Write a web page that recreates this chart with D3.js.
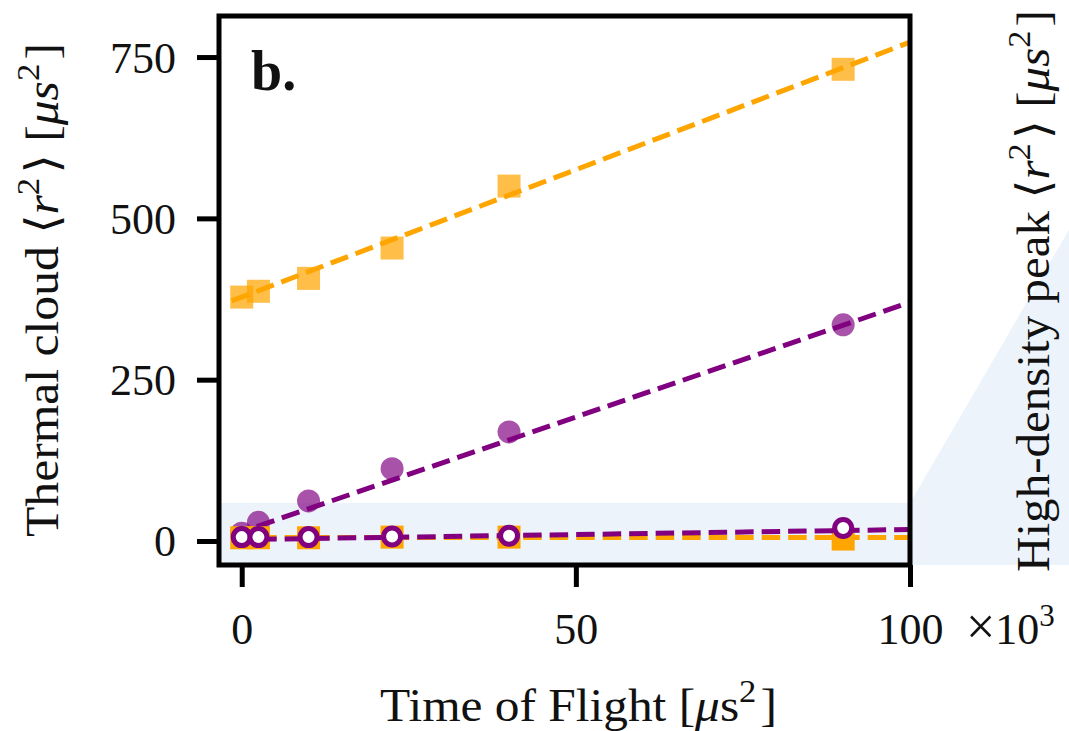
<!DOCTYPE html>
<html><head><meta charset="utf-8">
<script src="https://cdn.jsdelivr.net/npm/d3@7"></script>
<style>body{margin:0;background:#fff}svg{display:block}</style>
</head><body><svg id="c" width="1069" height="731"></svg>
<script>
// ---- data ----
const tof = [0, 2.5, 10, 22.5, 40, 90];               // x10^3 us^2
const thermalOrange = [378, 387, 407, 454, 550, 731];
const thermalPurple = [12, 29, 62, 112, 169, 335];
const peakOrange = [5, 5, 5, 6, 6, 3];
const peakPurple = [6, 6, 6, 7, 8, 20];
const fitX = [-1.5, 100];
const fitThermalOrange = [372, 773];
const fitThermalPurple = [9, 370];
const fitPeakOrange = [5.5, 5.5];
const fitPeakPurple = [2, 17.8];
const xTicks = [0, 50, 100];
const yTicks = [0, 250, 500, 750];
const shadeTop = 59;

const FONT = "'Liberation Serif', 'DejaVu Serif', serif";
const ORANGE = "#FFA500", PURPLE = "#800080";
const svg = d3.select("#c");
const L = 219, R = 910, T = 16, B = 565;
const x = d3.scaleLinear().domain([-3.4, 100]).range([L, R]);
const y = d3.scaleLinear().domain([-37.2, 813.6]).range([B, T]);

// shaded zoom region + connector
svg.append("rect").attr("x", L).attr("y", y(shadeTop)).attr("width", R - L).attr("height", B - y(shadeTop)).attr("fill", "#ECF3FA");
const cx0 = x(100), cy0 = y(shadeTop);
svg.append("polygon").attr("points", [[cx0, cy0], [cx0 + 200, cy0 - 200 * 1.718], [1100, cy0 - 190 * 1.718], [1100, B], [cx0, B]].map(p => p.join(",")).join(" ")).attr("fill", "#ECF3FA");

const g = svg.append("g");
const line = d3.line().x(d => x(d[0])).y(d => y(d[1]));
const dash = "18.5,8";
const sq = 23;
function squares(vals, op) {
  g.append("g").selectAll("rect").data(tof.map((t, i) => [t, vals[i]])).join("rect")
    .attr("x", d => x(d[0]) - sq / 2).attr("y", d => y(d[1]) - sq / 2)
    .attr("width", sq).attr("height", sq).attr("fill", ORANGE).attr("fill-opacity", op);
}
function fit(vals, col) {
  g.append("path").datum(fitX.map((t, i) => [t, vals[i]])).attr("d", line)
    .attr("fill", "none").attr("stroke", col).attr("stroke-width", 5).attr("stroke-dasharray", dash);
}
squares(thermalOrange, 0.72);
fit(fitThermalOrange, ORANGE);
g.append("g").selectAll("circle").data(tof.map((t, i) => [t, thermalPurple[i]])).join("circle")
  .attr("cx", d => x(d[0])).attr("cy", d => y(d[1])).attr("r", 11.5).attr("fill", PURPLE).attr("fill-opacity", 0.68);
fit(fitThermalPurple, PURPLE);
squares(peakOrange, 1);
fit(fitPeakOrange, ORANGE);
fit(fitPeakPurple, PURPLE);
g.append("g").selectAll("circle").data(tof.map((t, i) => [t, peakPurple[i]])).join("circle")
  .attr("cx", d => x(d[0])).attr("cy", d => y(d[1])).attr("r", 8.5).attr("fill", "#fff").attr("stroke", PURPLE).attr("stroke-width", 5);

// frame
svg.append("rect").attr("x", L).attr("y", T).attr("width", R - L).attr("height", B - T)
  .attr("fill", "none").attr("stroke", "#000").attr("stroke-width", 5);

// axes
const xa = svg.append("g").attr("transform", `translate(0,${B})`)
  .call(d3.axisBottom(x).tickValues(xTicks).tickSize(22).tickPadding(26).tickFormat(d3.format("d")));
const ya = svg.append("g").attr("transform", `translate(${L},0)`)
  .call(d3.axisLeft(y).tickValues(yTicks).tickSize(22).tickPadding(21).tickFormat(d3.format("d")));
[xa, ya].forEach(a => {
  a.select(".domain").remove();
  a.selectAll(".tick line").attr("stroke", "#000").attr("stroke-width", 5);
  a.selectAll(".tick text").attr("font-family", FONT).attr("font-size", 44).attr("fill", "#111");
});
xa.selectAll(".tick text").attr("dy", "0.71em");
ya.selectAll(".tick text").attr("dy", "0.34em");

function rich(sel, parts, size) {
  parts.forEach(p => {
    if (p.sup) {
      sel.append("tspan").attr("dy", -size * 0.42).attr("font-size", size * 0.7).text(p.t);
      sel.append("tspan").attr("dy", size * 0.42).text("\u200A");
    } else {
      const ts = sel.append("tspan").text(p.t);
      if (p.i) ts.attr("font-style", "italic");
    }
  });
}
// place text with a horizontal stretch so its length matches the reference
function placeFit(parts, size, anchor, tx, ty, rot, target) {
  const t = svg.append("text").attr("text-anchor", anchor)
    .attr("font-family", FONT).attr("font-size", size).attr("fill", "#111");
  rich(t, parts, size);
  const w = t.node().getBBox().width;
  const sx = target / w;
  t.attr("transform", `translate(${tx},${ty}) rotate(${rot}) scale(${sx},1)`);
  return t;
}
const S = 46;
placeFit([{t: "Time of Flight ["}, {t: "\u03BC", i: 1}, {t: "s"}, {t: "2", sup: 1}, {t: "]"}], S, "middle", 578.5, 721, 0, 397);
placeFit([{t: "Thermal cloud \u27E8"}, {t: "r", i: 1}, {t: "2", sup: 1}, {t: "\u27E9 ["}, {t: "\u03BCs", i: 1}, {t: "2", sup: 1}, {t: "]"}], S, "middle", 58, 290, -90, 494);
placeFit([{t: "High-density peak \u27E8"}, {t: "r", i: 1}, {t: "2", sup: 1}, {t: "\u27E9 ["}, {t: "\u03BCs", i: 1}, {t: "2", sup: 1}, {t: "]"}], S, "middle", 1049, 291, -90, 562);
// offset text
const off = svg.append("text").attr("x", 966).attr("y", 644).attr("font-family", FONT).attr("font-size", 44).attr("fill", "#111");
off.append("tspan").attr("font-size", 52).text("\u00D7");
off.append("tspan").text("10");
off.append("tspan").attr("dy", -18).attr("font-size", 31).text("3");
// panel label
svg.append("text").attr("x", 251).attr("y", 90).attr("font-family", FONT).attr("font-size", 56).attr("font-weight", "bold").attr("fill", "#111").text("b.");
</script></body></html>
